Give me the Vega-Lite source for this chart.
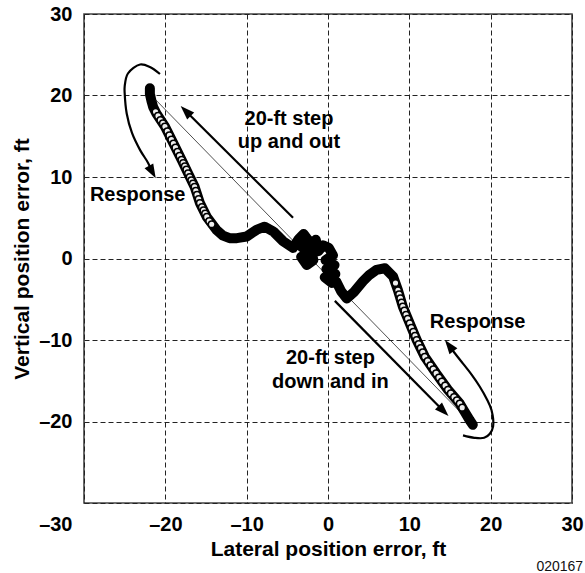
{
  "$schema": "https://vega.github.io/schema/vega-lite/v6.json",
  "width": 488,
  "height": 489,
  "autosize": {"type": "none"},
  "padding": {"left": 84, "top": 14, "right": 13, "bottom": 70},
  "background": "white",
  "config": {
    "view": {"stroke": "#444", "strokeWidth": 1.6},
    "font": "Liberation Sans",
    "text": {"font": "Liberation Sans"}
  },
  "title": {
    "text": "020167",
    "orient": "bottom",
    "anchor": "end",
    "font": "Liberation Sans",
    "fontSize": 14,
    "fontWeight": "normal",
    "color": "#111",
    "baseline": "alphabetic",
    "offset": 12
  },
  "datasets": {
    "trace": [
      {"i": 1, "x": -21.9, "y": 20.9}, {"i": 2, "x": -21.9, "y": 20.2}, {"i": 3, "x": -21.7, "y": 19.3},
      {"i": 4, "x": -21.5, "y": 18.6}, {"i": 5, "x": -21.1, "y": 17.8}, {"i": 6, "x": -20.05, "y": 16.2},
      {"i": 7, "x": -19.0, "y": 14.1}, {"i": 8, "x": -18.0, "y": 12.1}, {"i": 9, "x": -17.2, "y": 10.45},
      {"i": 10, "x": -16.4, "y": 8.8}, {"i": 11, "x": -15.75, "y": 6.8}, {"i": 12, "x": -14.9, "y": 5.1},
      {"i": 13, "x": -13.7, "y": 3.5}, {"i": 14, "x": -12.9, "y": 2.8}, {"i": 15, "x": -12.1, "y": 2.5},
      {"i": 16, "x": -11.2, "y": 2.5}, {"i": 17, "x": -10.0, "y": 2.7}, {"i": 18, "x": -8.8, "y": 3.5},
      {"i": 19, "x": -7.8, "y": 3.9}, {"i": 20, "x": -6.7, "y": 3.3}, {"i": 21, "x": -5.5, "y": 2.1},
      {"i": 22, "x": -4.3, "y": 1.3}, {"i": 23, "x": -3.6, "y": 2.4}, {"i": 24, "x": -3.0, "y": 3.0},
      {"i": 25, "x": -2.4, "y": 2.2}, {"i": 26, "x": -3.2, "y": 1.4}, {"i": 27, "x": -2.2, "y": 0.8},
      {"i": 28, "x": -3.3, "y": 0.2}, {"i": 29, "x": -2.6, "y": -0.8}, {"i": 30, "x": -1.8, "y": -0.2},
      {"i": 31, "x": -2.2, "y": 1.6}, {"i": 32, "x": -1.5, "y": 2.3}, {"i": 33, "x": -1.2, "y": 0.9},
      {"i": 34, "x": -0.6, "y": 1.6}, {"i": 35, "x": 0.1, "y": 1.3}, {"i": 36, "x": 0.6, "y": 0.4},
      {"i": 37, "x": -0.3, "y": -0.2}, {"i": 38, "x": 0.8, "y": -0.8}, {"i": 39, "x": -0.2, "y": -1.3},
      {"i": 40, "x": 0.9, "y": -1.9}, {"i": 41, "x": -0.4, "y": -2.3}, {"i": 42, "x": 0.5, "y": -3.0},
      {"i": 43, "x": 1.0, "y": -2.8}, {"i": 44, "x": 1.6, "y": -4.0}, {"i": 45, "x": 2.3, "y": -4.9},
      {"i": 46, "x": 3.2, "y": -4.1}, {"i": 47, "x": 4.3, "y": -2.8}, {"i": 48, "x": 5.1, "y": -2.0},
      {"i": 49, "x": 5.96, "y": -1.4}, {"i": 50, "x": 7.0, "y": -1.2}, {"i": 51, "x": 8.0, "y": -2.2},
      {"i": 52, "x": 8.6, "y": -3.9}, {"i": 53, "x": 9.2, "y": -5.9}, {"i": 54, "x": 10.05, "y": -7.95},
      {"i": 55, "x": 10.9, "y": -10.0}, {"i": 56, "x": 11.9, "y": -12.05}, {"i": 57, "x": 13.3, "y": -14.1},
      {"i": 58, "x": 14.75, "y": -16.1}, {"i": 59, "x": 16.2, "y": -17.8}, {"i": 60, "x": 16.8, "y": -18.8},
      {"i": 61, "x": 17.4, "y": -19.8}, {"i": 62, "x": 17.8, "y": -20.4}
    ],
    "markers": [
      {"x": -21.2, "y": 18.0}, {"x": -20.9, "y": 17.5}, {"x": -20.6, "y": 17.0}, {"x": -20.3, "y": 16.6},
      {"x": -20.05, "y": 16.2}, {"x": -19.75, "y": 15.6}, {"x": -19.5, "y": 15.1}, {"x": -19.25, "y": 14.6},
      {"x": -19.0, "y": 14.1}, {"x": -18.75, "y": 13.6}, {"x": -18.5, "y": 13.1}, {"x": -18.25, "y": 12.6},
      {"x": -18.0, "y": 12.1}, {"x": -17.8, "y": 11.7}, {"x": -17.6, "y": 11.3}, {"x": -17.4, "y": 10.9},
      {"x": -17.2, "y": 10.45}, {"x": -17.0, "y": 10.0}, {"x": -16.8, "y": 9.6}, {"x": -16.6, "y": 9.2},
      {"x": -16.4, "y": 8.8}, {"x": -16.25, "y": 8.3}, {"x": -16.1, "y": 7.8}, {"x": -15.9, "y": 7.3},
      {"x": -15.75, "y": 6.8}, {"x": -15.5, "y": 6.3}, {"x": -15.3, "y": 5.9}, {"x": -15.1, "y": 5.5},
      {"x": -14.9, "y": 5.1}, {"x": -14.6, "y": 4.6}, {"x": -14.3, "y": 4.2},
      {"x": 8.3, "y": -3.0}, {"x": 8.6, "y": -3.9}, {"x": 8.75, "y": -4.4}, {"x": 8.9, "y": -4.9},
      {"x": 9.05, "y": -5.4}, {"x": 9.2, "y": -5.9}, {"x": 9.4, "y": -6.4}, {"x": 9.6, "y": -6.9},
      {"x": 9.8, "y": -7.4}, {"x": 10.05, "y": -7.95}, {"x": 10.25, "y": -8.5}, {"x": 10.5, "y": -9.0},
      {"x": 10.7, "y": -9.5}, {"x": 10.9, "y": -10.0}, {"x": 11.15, "y": -10.5}, {"x": 11.4, "y": -11.0},
      {"x": 11.65, "y": -11.5}, {"x": 11.9, "y": -12.05}, {"x": 12.25, "y": -12.6}, {"x": 12.6, "y": -13.1},
      {"x": 12.95, "y": -13.6}, {"x": 13.3, "y": -14.1}, {"x": 13.65, "y": -14.6}, {"x": 14.0, "y": -15.1},
      {"x": 14.4, "y": -15.6}, {"x": 14.75, "y": -16.1}, {"x": 15.1, "y": -16.55}, {"x": 15.5, "y": -17.0},
      {"x": 15.85, "y": -17.4}, {"x": 16.2, "y": -17.8}, {"x": 16.5, "y": -18.3}
    ],
    "command": [
      {"i": 1, "x": -21.7, "y": 20.0}, {"i": 2, "x": 17.6, "y": -20.2}
    ],
    "arrowUp": [
      {"i": 1, "x": -4.3, "y": 5.0}, {"i": 2, "x": -17.5, "y": 18.1}
    ],
    "arrowDown": [
      {"i": 1, "x": 0.84, "y": -5.2}, {"i": 2, "x": 14.2, "y": -18.7}
    ],
    "arc1": [
      {"i": 1, "x": -20.66, "y": 22.64}, {"i": 2, "x": -21.9, "y": 23.5}, {"i": 3, "x": -23.1, "y": 23.8},
      {"i": 4, "x": -24.6, "y": 22.7}, {"i": 5, "x": -25.0, "y": 21.1}, {"i": 6, "x": -25.0, "y": 20.3},
      {"i": 7, "x": -24.75, "y": 17.8}, {"i": 8, "x": -24.1, "y": 15.4}, {"i": 9, "x": -23.1, "y": 13.3},
      {"i": 10, "x": -22.1, "y": 11.7}, {"i": 11, "x": -21.6, "y": 10.6}
    ],
    "arc2": [
      {"i": 1, "x": 16.6, "y": -21.7}, {"i": 2, "x": 18.0, "y": -22.0}, {"i": 3, "x": 19.2, "y": -22.0},
      {"i": 4, "x": 19.9, "y": -21.5}, {"i": 5, "x": 20.3, "y": -20.6}, {"i": 6, "x": 20.1, "y": -18.6},
      {"i": 7, "x": 19.5, "y": -17.2}, {"i": 8, "x": 18.65, "y": -15.7}, {"i": 9, "x": 17.7, "y": -14.3},
      {"i": 10, "x": 16.6, "y": -12.9}, {"i": 11, "x": 15.5, "y": -11.5}, {"i": 12, "x": 14.9, "y": -10.7}
    ],
    "headUp": [{"x": -17.5, "y": 18.1}],
    "headDown": [{"x": 14.2, "y": -18.7}],
    "head1": [{"x": -21.6, "y": 10.6}],
    "head2": [{"x": 14.9, "y": -10.7}],
    "notes": [
      {"x": -4.8, "y": 17.1, "text": "20-ft step"},
      {"x": -4.8, "y": 14.3, "text": "up and out"},
      {"x": -23.4, "y": 7.8, "text": "Response"},
      {"x": 0.3, "y": -12.2, "text": "20-ft step"},
      {"x": 0.3, "y": -15.1, "text": "down and in"},
      {"x": 18.4, "y": -7.75, "text": "Response"}
    ]
  },
  "encoding": {
    "x": {
      "field": "x", "type": "quantitative",
      "scale": {"domain": [-30, 30], "nice": false, "zero": false},
      "axis": {
        "title": "Lateral position error, ft",
        "values": [-30, -20, -10, 0, 10, 20, 30],
        "labelExpr": "datum.value < 0 ? '–' + abs(datum.value) : '' + datum.value",
        "labelFont": "Liberation Sans", "labelFontSize": 20, "labelFontWeight": "bold", "labelColor": "black",
        "labelPadding": 11, "labelFlush": false, "labelOverlap": false,
        "labelAlign": {"condition": {"test": "datum.value === -30", "value": "right"}, "value": "center"},
        "labelOffset": {"condition": {"test": "datum.value === -30", "value": -12}, "value": 0},
        "ticks": false, "domain": false,
        "grid": true, "gridColor": "#222", "gridDash": [5, 3], "gridWidth": 1, "gridOpacity": 1,
        "titleFont": "Liberation Sans", "titleFontSize": 21, "titleFontWeight": "bold", "titleColor": "black",
        "titleBaseline": "alphabetic", "titleY": 52, "titleX": 244, "titleAlign": "center"
      }
    },
    "y": {
      "field": "y", "type": "quantitative",
      "scale": {"domain": [-30, 30], "nice": false, "zero": false},
      "axis": {
        "title": "Vertical position error, ft",
        "values": [-30, -20, -10, 0, 10, 20, 30],
        "labelExpr": "datum.value == -30 ? '' : (datum.value < 0 ? '–' + abs(datum.value) : '' + datum.value)",
        "labelFont": "Liberation Sans", "labelFontSize": 20, "labelFontWeight": "bold", "labelColor": "black",
        "labelPadding": 12, "labelFlush": false, "labelOverlap": false,
        "ticks": false, "domain": false,
        "grid": true, "gridColor": "#222", "gridDash": [5, 3], "gridWidth": 1, "gridOpacity": 1,
        "titleFont": "Liberation Sans", "titleFontSize": 21, "titleFontWeight": "bold", "titleColor": "black",
        "titleAngle": -90, "titleBaseline": "alphabetic", "titleX": -56, "titleY": 244.5, "titleAlign": "center"
      }
    }
  },
  "layer": [
    {
      "data": {"name": "command"},
      "mark": {"type": "line", "color": "#222", "strokeWidth": 0.8},
      "encoding": {"order": {"field": "i"}}
    },
    {
      "data": {"name": "trace"},
      "mark": {"type": "line", "color": "black", "strokeWidth": 10, "strokeCap": "round", "strokeJoin": "round", "interpolate": "linear"},
      "encoding": {"order": {"field": "i"}}
    },
    {
      "data": {"name": "markers"},
      "mark": {"type": "point", "shape": "circle", "filled": false, "fill": "#eee", "fillOpacity": 1, "stroke": "black", "strokeWidth": 1.5, "size": 44, "opacity": 1}
    },
    {
      "data": {"name": "arrowUp"},
      "mark": {"type": "line", "color": "black", "strokeWidth": 2.2},
      "encoding": {"order": {"field": "i"}}
    },
    {
      "data": {"name": "arrowDown"},
      "mark": {"type": "line", "color": "black", "strokeWidth": 2.2},
      "encoding": {"order": {"field": "i"}}
    },
    {
      "data": {"name": "arc1"},
      "mark": {"type": "line", "color": "black", "strokeWidth": 2.2, "interpolate": "catmull-rom"},
      "encoding": {"order": {"field": "i"}}
    },
    {
      "data": {"name": "arc2"},
      "mark": {"type": "line", "color": "black", "strokeWidth": 2.2, "interpolate": "catmull-rom"},
      "encoding": {"order": {"field": "i"}}
    },
    {
      "data": {"name": "headUp"},
      "mark": {"type": "point", "shape": "M0,-1L0.7,1L-0.7,1Z", "filled": true, "color": "black", "opacity": 1, "size": 200, "angle": 315}
    },
    {
      "data": {"name": "headDown"},
      "mark": {"type": "point", "shape": "M0,-1L0.7,1L-0.7,1Z", "filled": true, "color": "black", "opacity": 1, "size": 200, "angle": 135}
    },
    {
      "data": {"name": "head1"},
      "mark": {"type": "point", "shape": "M0,-1L0.7,1L-0.7,1Z", "filled": true, "color": "black", "opacity": 1, "size": 200, "angle": 151}
    },
    {
      "data": {"name": "head2"},
      "mark": {"type": "point", "shape": "M0,-1L0.7,1L-0.7,1Z", "filled": true, "color": "black", "opacity": 1, "size": 200, "angle": 323}
    },
    {
      "data": {"name": "notes"},
      "mark": {"type": "text", "font": "Liberation Sans", "fontSize": 20, "fontWeight": "bold", "color": "black", "align": "center", "baseline": "middle"},
      "encoding": {"text": {"field": "text"}}
    }
  ]
}
